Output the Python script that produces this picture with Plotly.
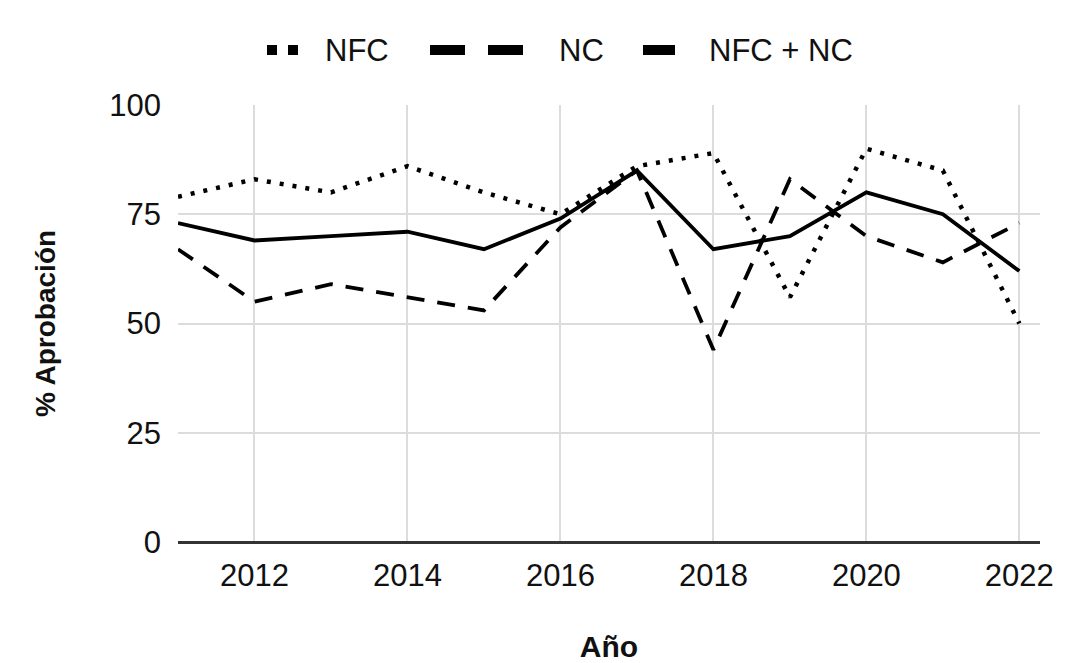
import plotly.graph_objects as go

years = [2011, 2012, 2013, 2014, 2015, 2016, 2017, 2018, 2019, 2020, 2021, 2022]
nfc = [79, 83, 80, 86, 80, 75, 86, 89, 56, 90, 85, 50]
nc = [67, 55, 59, 56, 53, 72, 85, 44, 83, 70, 64, 73]
nfc_nc = [73, 69, 70, 71, 67, 74, 85, 67, 70, 80, 75, 62]
x_ticks = [2012, 2014, 2016, 2018, 2020, 2022]
y_ticks = [0, 25, 50, 75, 100]
series_names = ["NFC", "NC", "NFC + NC"]

FONT = "Liberation Sans, Arial, sans-serif"
W, H = 1060, 655
ML, MR, MT, MB = 170, 28, 97, 121
PW, PH = W - ML - MR, H - MT - MB


def px(x):
    return (x - ML) / PW


def py(y):
    return (H - MB - y) / PH


styles = [
    dict(color="black", width=4.5, dash="4px,9px"),
    dict(color="black", width=3.8, dash="18px,13px"),
    dict(color="black", width=3.8),
]
series = [nfc, nc, nfc_nc]

fig = go.Figure()
for name, vals, st in zip(series_names, series, styles):
    fig.add_trace(go.Scatter(x=years, y=vals, name=name, mode="lines", line=st))

# custom legend (Google-Sheets style symbols)
leg_y = 42
legend_items = [
    (259, 292, "10px,11px", 315),
    (422, 515, "35px,23px", 549),
    (635, 667, "solid", 699),
]
shapes = []
annotations = []
for (x0, x1, dash, tx), name in zip(legend_items, series_names):
    shapes.append(dict(type="line", xref="paper", yref="paper",
                       x0=px(x0), x1=px(x1), y0=py(leg_y), y1=py(leg_y),
                       line=dict(color="black", width=10, dash=dash)))
    annotations.append(dict(text=name, xref="paper", yref="paper", x=px(tx), y=py(leg_y),
                            xanchor="left", yanchor="middle", showarrow=False,
                            font=dict(size=31, color="#111111")))

fig.update_layout(
    width=W, height=H,
    margin=dict(l=ML, r=MR, t=MT, b=MB, autoexpand=False),
    paper_bgcolor="white", plot_bgcolor="white",
    font=dict(family=FONT, size=31, color="#111111"),
    showlegend=False,
    shapes=shapes,
    annotations=annotations,
    xaxis=dict(range=[2011, 2022.27], tickvals=x_ticks, ticktext=[str(t) for t in x_ticks],
               showgrid=True, gridcolor="#dcdcdc", gridwidth=2, zeroline=False,
               showline=False, ticks="", ticklabelstandoff=12, automargin=False,
               tickfont=dict(size=31),
               title=dict(text="<b>Año</b>", standoff=56, font=dict(size=30))),
    yaxis=dict(range=[0, 100], tickvals=y_ticks, showgrid=True, gridcolor="#dcdcdc",
               gridwidth=2, zeroline=True, zerolinecolor="#333333", zerolinewidth=3,
               showline=False, ticks="", ticklabelstandoff=16, automargin=False,
               tickfont=dict(size=31),
               title=dict(text="<b>% Aprobación</b>", standoff=45, font=dict(size=28))),
)

fig.write_html("out.html")
